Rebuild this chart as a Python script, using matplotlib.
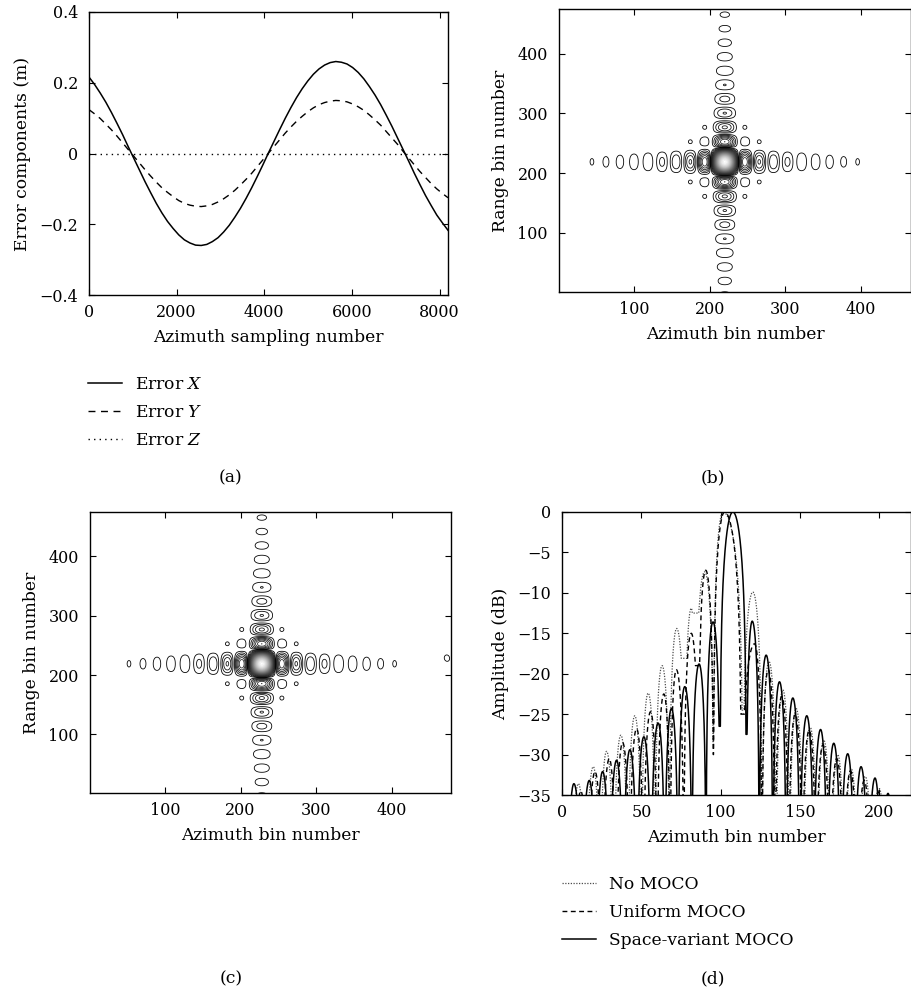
import numpy as np
import matplotlib.pyplot as plt

plt.rcParams['font.family'] = ['DejaVu Serif']
plt.rcParams['mathtext.fontset'] = 'dejavuserif'
plt.rcParams['font.size'] = 12.3
plt.rcParams['xtick.labelsize'] = 11.5
plt.rcParams['ytick.labelsize'] = 11.5
plt.rcParams['xtick.direction'] = 'in'
plt.rcParams['ytick.direction'] = 'in'
plt.rcParams['xtick.top'] = True
plt.rcParams['ytick.right'] = True
plt.rcParams['xtick.major.size'] = 4
plt.rcParams['ytick.major.size'] = 4
plt.rcParams['xtick.major.pad'] = 6.5
plt.rcParams['ytick.major.pad'] = 8
plt.rcParams['axes.labelpad'] = 6
plt.rcParams['axes.linewidth'] = 1.0

# ---- (a) trajectory error components, read every 128 samples ----
sample_n = np.arange(0, 8193, 128)
error_x = [0.216, 0.195, 0.171, 0.145, 0.116, 0.085, 0.053, 0.019, -0.014, -0.047,
           -0.080, -0.111, -0.141, -0.168, -0.192, -0.212, -0.230, -0.244, -0.253, -0.259,
           -0.260, -0.257, -0.249, -0.238, -0.222, -0.203, -0.180, -0.155, -0.127, -0.097,
           -0.065, -0.032, 0.002, 0.035, 0.068, 0.100, 0.130, 0.158, 0.183, 0.205,
           0.224, 0.239, 0.250, 0.257, 0.260, 0.258, 0.253, 0.243, 0.229, 0.211,
           0.189, 0.165, 0.138, 0.108, 0.077, 0.044, 0.011, -0.022, -0.056, -0.088,
           -0.119, -0.147, -0.174, -0.196, -0.217]
error_y = [0.124, 0.112, 0.099, 0.083, 0.067, 0.049, 0.030, 0.011, -0.008, -0.027,
           -0.046, -0.064, -0.081, -0.097, -0.110, -0.122, -0.133, -0.141, -0.146, -0.149,
           -0.150, -0.148, -0.144, -0.137, -0.128, -0.117, -0.104, -0.089, -0.073, -0.056,
           -0.037, -0.018, 0.001, 0.020, 0.039, 0.058, 0.075, 0.091, 0.105, 0.118,
           0.129, 0.138, 0.144, 0.148, 0.150, 0.149, 0.146, 0.140, 0.132, 0.122,
           0.109, 0.095, 0.080, 0.062, 0.044, 0.026, 0.006, -0.013, -0.032, -0.051,
           -0.068, -0.085, -0.100, -0.113, -0.125]
error_z = [0.0] * len(sample_n)

# ---- (b), (c) point target responses: centre, lobe spacing (bins) ----
resp_b = dict(cx=220, cy=219, az_sp=18.5, rg_sp=23.5)
resp_c = dict(cx=228, cy=219, az_sp=18.5, rg_sp=23.5)
ghost_c = dict(x=472, y=229, amp=0.04)
contour_levels = np.arange(0.025, 1.0, 0.032)

# ---- (d) azimuth profiles: lobe nulls (x, dB) and lobe peaks (x, dB) ----
sv_peaks_x = [7.5, 17.2, 25.6, 34.4, 42.8, 51.6, 60.6, 69.0, 77.4, 86.4, 95.2, 107.7,
              119.9, 128.7, 137.1, 145.5, 154.3, 163.0, 171.3, 180.1, 188.5, 197.3, 205.5]
sv_peaks_db = [-33.6, -33.2, -32.1, -30.7, -29.4, -27.8, -26.1, -24.3, -21.6, -18.8, -13.6, 0.0,
               -13.5, -17.7, -21.0, -23.0, -25.2, -26.9, -28.6, -29.9, -31.5, -32.9, -34.8]
sv_nulls_x = [3.2, 12.4, 21.4, 30.0, 38.6, 47.2, 56.1, 64.8, 73.2, 81.9, 90.8, 99.6,
              116.2, 124.3, 132.9, 141.3, 149.9, 158.6, 167.1, 175.7, 184.3, 192.9, 201.4, 209.6]
sv_nulls_db = [-60] * 11 + [-26.5, -27.5] + [-60] * 11

no_peaks_x = [10.3, 19.7, 28.1, 37.1, 45.9, 54.3, 63.1, 72.3, 81.5, 89.9, 101.5,
              120.3, 130.5, 139.2, 147.6, 156.4, 165.0, 173.8, 182.2, 191.2, 200.0, 208.5]
no_peaks_db = [-33.6, -31.5, -29.6, -27.6, -25.2, -22.4, -19.0, -14.4, -11.9, -7.4, 0.0,
               -9.9, -18.5, -22.0, -24.3, -26.6, -28.2, -30.0, -31.7, -32.7, -34.2, -35.5]
no_nulls_x = [6.0, 15.0, 23.9, 32.6, 41.5, 50.1, 58.7, 67.7, 77.4, 84.0, 95.5, 114.0,
              126.0, 135.0, 143.4, 152.0, 160.7, 169.4, 178.0, 186.7, 195.6, 204.3, 212.5]
no_nulls_db = [-60] * 8 + [-18.1, -12.5, -28.5, -24.5] + [-60] * 11

un_peaks_x = [11.8, 20.8, 29.8, 38.2, 47.0, 55.8, 64.2, 72.1, 81.5, 90.6, 102.5,
              121.4, 130.0, 138.5, 147.0, 155.8, 164.5, 173.2, 181.8, 190.5, 199.3]
un_peaks_db = [-34.5, -32.1, -30.5, -28.5, -26.8, -24.7, -22.5, -19.5, -15.0, -7.2, 0.0,
               -16.3, -19.5, -22.8, -25.0, -27.0, -28.8, -30.5, -32.0, -33.2, -34.6]
un_nulls_x = [7.5, 16.3, 25.3, 34.0, 42.6, 51.4, 60.0, 68.2, 76.8, 86.0, 95.5, 113.0,
              126.0, 134.3, 142.8, 151.4, 160.1, 168.8, 177.5, 186.1, 194.9, 203.7]
un_nulls_db = [-60] * 9 + [-19.0, -30.0, -25.0] + [-60] * 10


def point_response(x, y, cx, cy, az_sp, rg_sp):
    u = (x - cx) / az_sp
    v = (y - cy) / rg_sp
    return np.abs(np.sinc(u) * np.exp(-(u / 21.0) ** 2) * np.sinc(v))


def lobe_profile(nulls_x, nulls_db, peaks_x, peaks_db):
    """Join the read lobes (null - peak - null) into one dB curve."""
    xs, ys = [], []
    for i in range(len(peaks_x)):
        a, b, p = nulls_x[i], nulls_x[i + 1], peaks_x[i]
        x = np.linspace(a, b, 80)
        t = np.where(x <= p, 0.5 * (x - a) / (p - a), 0.5 + 0.5 * (x - p) / (b - p))
        y = peaks_db[i] + 20 * np.log10(np.maximum(np.sin(np.pi * t), 1e-4))
        y = np.maximum(y, np.where(x <= p, nulls_db[i], nulls_db[i + 1]))
        xs.append(x)
        ys.append(y)
    return np.concatenate(xs), np.concatenate(ys)


W, H = 912, 998
fig = plt.figure(figsize=(W / 100, H / 100), dpi=100)


def add_axes(left, top, right, bottom):
    return fig.add_axes([left / W, 1 - bottom / H, (right - left) / W, (bottom - top) / H])


legend_kw = dict(bbox_transform=fig.transFigure, loc='upper left', frameon=False,
                 handlelength=2.0, handletextpad=0.75, labelspacing=0.65, borderpad=0,
                 borderaxespad=0)

# (a)
ax = add_axes(89, 12, 448, 295)
ax.plot(sample_n, error_x, color='k', lw=1.1, label='Error $X$')
ax.plot(sample_n, error_y, color='k', lw=1.0, ls=(0, (5, 4)), label='Error $Y$')
ax.plot(sample_n, error_z, color='k', lw=1.0, ls=(0, (1, 3)), label='Error $Z$')
ax.set_xlim(0, 8192)
ax.set_ylim(-0.4, 0.4)
ax.set_xticks([0, 2000, 4000, 6000, 8000])
ax.set_yticks([-0.4, -0.2, 0, 0.2, 0.4])
ax.set_yticklabels(['\u22120.4', '\u22120.2', '0', '0.2', '0.4'])
ax.set_xlabel('Azimuth sampling number')
ax.set_ylabel('Error components (m)')
ax.legend(bbox_to_anchor=(88 / W, 1 - 376 / H), **legend_kw)

# (b) and (c)
gx, gy = np.meshgrid(np.arange(0, 481, 0.5), np.arange(0, 481, 0.5))
field_b = point_response(gx, gy, **resp_b)
field_c = point_response(gx, gy, **resp_c)
field_c = field_c + ghost_c['amp'] * np.exp(-(((gx - ghost_c['x']) / 4.0) ** 2 + ((gy - ghost_c['y']) / 6.0) ** 2))

for field, box, xmax in [(field_b, (559, 9, 911, 292), 466), (field_c, (90, 512, 451, 793), 478)]:
    ax = add_axes(*box)
    ax.contour(gx, gy, field, levels=contour_levels, cmap='gray', vmin=0, vmax=1.05, linewidths=0.6)
    ax.set_xlim(1, xmax)
    ax.set_ylim(1, 475)
    ax.set_xticks([100, 200, 300, 400])
    ax.set_yticks([100, 200, 300, 400])
    ax.set_xlabel('Azimuth bin number')
    ax.set_ylabel('Range bin number')

# (d)
ax = add_axes(562, 512, 911, 795)
x, y = lobe_profile(no_nulls_x, no_nulls_db, no_peaks_x, no_peaks_db)
ax.plot(x, y, color='0.3', lw=0.9, ls=(0, (1, 1.2)), label='No MOCO')
x, y = lobe_profile(un_nulls_x, un_nulls_db, un_peaks_x, un_peaks_db)
ax.plot(x, y, color='k', lw=1.0, ls=(0, (3.5, 2.5)), label='Uniform MOCO')
x, y = lobe_profile(sv_nulls_x, sv_nulls_db, sv_peaks_x, sv_peaks_db)
ax.plot(x, y, color='k', lw=1.1, label='Space-variant MOCO')
ax.set_xlim(0, 220)
ax.set_ylim(-35, 0)
ax.set_xticks([0, 50, 100, 150, 200])
ax.set_yticks(np.arange(-35, 1, 5))
ax.set_yticklabels(['\u221235', '\u221230', '\u221225', '\u221220', '\u221215', '\u221210', '\u22125', '0'])
ax.set_xlabel('Azimuth bin number')
ax.set_ylabel('Amplitude (dB)')
ax.legend(bbox_to_anchor=(562 / W, 1 - 876 / H), **legend_kw)

for label, px, py in [('(a)', 231, 478), ('(b)', 713, 478), ('(c)', 231, 979), ('(d)', 713, 979)]:
    fig.text(px / W, 1 - py / H, label, ha='center', va='center')

fig.savefig('out.png', dpi=100)
